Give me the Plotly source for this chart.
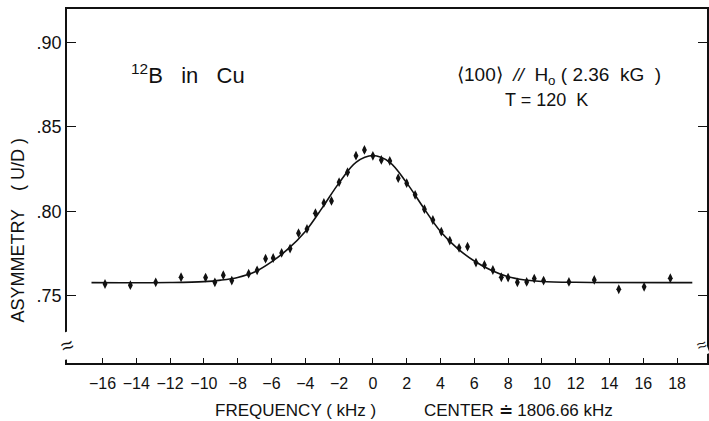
import plotly.graph_objects as go

# Measured data points (frequency offset in kHz, asymmetry U/D)
freq_khz = [-15.85, -14.35, -12.85, -11.35, -9.9, -9.35, -8.85, -8.35, -7.35,
            -6.85, -6.35, -5.9, -5.4, -4.9, -4.4, -3.9, -3.4, -2.9, -2.45,
            -2.0, -1.5, -1.0, -0.5, 0.0, 0.5, 1.0, 1.5, 2.0, 2.5,
            3.05, 3.55, 4.05, 4.55, 5.1, 5.6, 6.1, 6.6, 7.1, 7.6,
            8.0, 8.55, 9.1, 9.55, 10.1, 11.6, 13.1, 14.55, 16.05, 17.6]
asymmetry = [0.7569, 0.7562, 0.7579, 0.7609, 0.7607, 0.7579, 0.7621, 0.7589, 0.7630,
             0.7650, 0.7719, 0.7723, 0.7753, 0.7779, 0.7870, 0.7895, 0.7988, 0.8049, 0.8061,
             0.8172, 0.8231, 0.8329, 0.8363, 0.8328, 0.8304, 0.8298, 0.8196, 0.8166, 0.8097,
             0.8012, 0.7948, 0.7879, 0.7826, 0.7783, 0.7790, 0.7696, 0.7682, 0.7652, 0.7609,
             0.7607, 0.7579, 0.7581, 0.7601, 0.7589, 0.7581, 0.7593, 0.7538, 0.7552, 0.7603]
asym_err = 0.0017

# Fitted curve
fit_freq = [-16.65, -12, -10, -9, -8, -7, -6, -5, -4, -3, -2, -1, 0,
            1, 2, 3, 4, 5, 6, 7, 8, 9, 10, 12, 18.9]
fit_asym = [0.7577, 0.7578, 0.7583, 0.7592, 0.7608, 0.7640, 0.7700, 0.7778, 0.7880,
            0.8020, 0.8168, 0.8290, 0.8330, 0.8290, 0.8168, 0.8020, 0.7880, 0.7780,
            0.7705, 0.7650, 0.7612, 0.7593, 0.7584, 0.7579, 0.7577]

x_tickvals = [-16, -14, -12, -10, -8, -6, -4, -2, 0, 2, 4, 6, 8, 10, 12, 14, 16, 18]
x_ticktext = ["\u221216", "\u221214", "\u221212", "\u221210", "\u22128", "\u22126",
              "\u22124", "\u22122", "0", "2", "4", "6", "8", "10", "12", "14", "16", "18"]
y_tickvals = [0.75, 0.80, 0.85, 0.90]
y_ticktext = [".75", ".80", ".85", ".90"]

FONT = "Liberation Sans, Arial, sans-serif"
INK = "#111111"
NB = "\u00a0"

fig = go.Figure()
fig.add_trace(go.Scatter(
    x=fit_freq, y=fit_asym, mode="lines",
    line=dict(color=INK, width=1.6, shape="spline", smoothing=1.0),
    hoverinfo="skip", showlegend=False))
fig.add_trace(go.Scatter(
    x=freq_khz, y=asymmetry, mode="markers",
    marker=dict(symbol="diamond-tall", size=7, color=INK),
    error_y=dict(type="constant", value=asym_err, thickness=1.5, width=0, color=INK),
    showlegend=False))

fig.update_layout(
    width=709, height=421,
    margin=dict(l=67, r=2, t=9, b=58, autoexpand=False),
    paper_bgcolor="white", plot_bgcolor="white",
    font=dict(family=FONT, color=INK, size=16),
    xaxis=dict(range=[-18.1, 19.77], tickvals=x_tickvals, ticktext=x_ticktext,
               ticks="inside", ticklen=5, tickwidth=1.3, tickcolor=INK,
               showline=True, linecolor=INK, linewidth=1.8, mirror=True,
               showgrid=False, zeroline=False, tickfont=dict(size=16),
               ticklabelstandoff=5, automargin=False),
    yaxis=dict(range=[0.7101, 0.9198], tickvals=y_tickvals, ticktext=y_ticktext,
               ticks="inside", ticklen=9, tickwidth=1.3, tickcolor=INK,
               showline=True, linecolor=INK, linewidth=1.8, mirror="allticks",
               showgrid=False, zeroline=False, tickfont=dict(size=18),
               automargin=False),
)

ann = [
    dict(text="<sup>12</sup>B" + NB * 3 + "in" + NB * 3 + "Cu", x=0.097, y=0.815,
         xanchor="left", yanchor="middle", font=dict(size=22)),
    dict(text="\u27e8100\u27e9" + NB * 2 + "<i>//</i>" + NB * 2 + "H<sub>o</sub>"
         + NB + "( 2.36" + NB * 2 + "kG" + NB * 2 + ")", x=0.607, y=0.812,
         xanchor="left", yanchor="middle", font=dict(size=19)),
    dict(text="T = 120" + NB * 2 + "K", x=0.681, y=0.743, xanchor="left", yanchor="middle",
         font=dict(size=18)),
    dict(text="FREQUENCY ( kHz )", x=0.228, y=-0.1328, xanchor="left", yanchor="middle",
         font=dict(size=17)),
    dict(text="CENTER \u2250 1806.66 kHz", x=0.5547, y=-0.1328, xanchor="left",
         yanchor="middle", font=dict(size=17)),
    dict(text="ASYMMETRY\u2003( U/D )", x=-0.076, y=0.375, xanchor="center", yanchor="middle",
         textangle=-90, font=dict(size=18)),
    dict(text="\u2248", x=0.0, y=0.0495, xanchor="center", yanchor="middle",
         font=dict(size=22), bgcolor="white", borderpad=0, textangle=-20),
    dict(text="\u2248", x=0.991, y=0.0495, xanchor="center", yanchor="middle",
         font=dict(size=17), bgcolor="white", borderpad=0, textangle=-20),
]
for a in ann:
    a.update(xref="paper", yref="paper", showarrow=False)
    fig.add_annotation(**a)

fig.write_html(
    "out.html",
    config={"displayModeBar": False},
    post_script="document.body.style.margin='0px';document.body.style.overflow='hidden';",
)
